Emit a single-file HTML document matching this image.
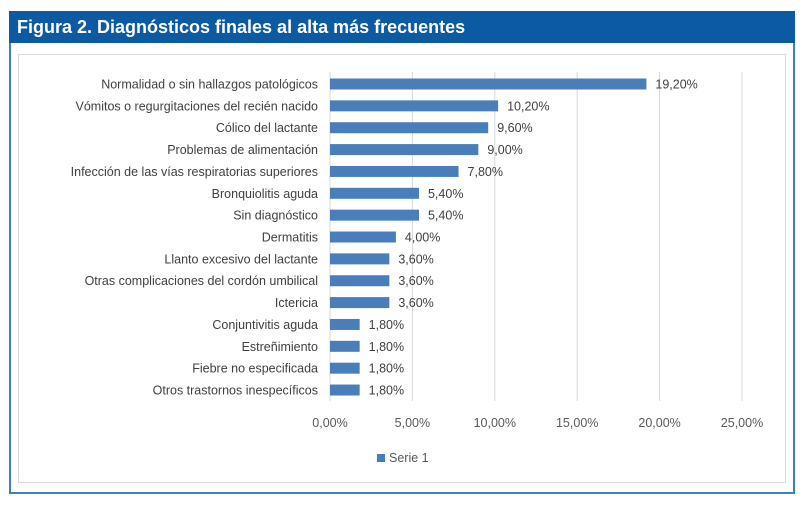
<!DOCTYPE html>
<html><head><meta charset="utf-8"><style>
body{margin:0;background:#fff;width:803px;height:505px;overflow:hidden;font-family:"Liberation Sans",sans-serif}
#frame{position:absolute;left:9px;top:11px;width:782px;height:481px;border:2px solid #3f7fbf;border-top:none;box-sizing:content-box}
#hdr{position:absolute;left:9px;top:11px;width:786px;height:32px;background:#0b5aa2;color:#fff;font-weight:bold;font-size:18px;line-height:32px;padding-left:8px;box-sizing:border-box}
#inner{position:absolute;left:18px;top:54px;width:768px;height:429px;border:1px solid #d9d9d9;box-sizing:border-box}
</style></head><body>
<div id="frame"></div>
<div id="hdr">Figura 2. Diagnósticos finales al alta más frecuentes</div>
<div id="inner"></div>
<svg id="chart" width="803" height="505" style="position:absolute;left:0;top:0"></svg>
<script>
const categories=["Normalidad o sin hallazgos patológicos","Vómitos o regurgitaciones del recién nacido","Cólico del lactante","Problemas de alimentación","Infección de las vías respiratorias superiores","Bronquiolitis aguda","Sin diagnóstico","Dermatitis","Llanto excesivo del lactante","Otras complicaciones del cordón umbilical","Ictericia","Conjuntivitis aguda","Estreñimiento","Fiebre no especificada","Otros trastornos inespecíficos"];
const values=[19.2,10.2,9.6,9.0,7.8,5.4,5.4,4.0,3.6,3.6,3.6,1.8,1.8,1.8,1.8];
const ticks=[0,5,10,15,20,25];
const svg=document.getElementById('chart');const NS='http://www.w3.org/2000/svg';
const x=v=>330+v*16.48;const y=i=>84+i*21.86;
const fmt=v=>v.toFixed(2).replace('.',',')+'%';
function mk(t,a,txt){const e=document.createElementNS(NS,t);for(const k in a)e.setAttribute(k,a[k]);if(txt!==undefined)e.textContent=txt;svg.appendChild(e);return e;}
ticks.forEach(t=>{
const g=mk('line',{x1:x(t),x2:x(t),y1:72,y2:401,stroke:'#d9d9d9','stroke-width':1});


const l=mk('text',{x:x(t),y:427,'text-anchor':'middle','font-size':12.5,fill:'#595959'},fmt(t));


});
categories.forEach((c,i)=>{
const b=mk('rect',{x:x(0),y:y(i)-5.5,width:x(values[i])-x(0),height:11,fill:'#4a7ebb'});


const cl=mk('text',{x:318,y:y(i)+4.5,'text-anchor':'end','font-size':12.5,fill:'#404040'},c);


const vl=mk('text',{x:x(values[i])+9,y:y(i)+4.5,'font-size':12.5,fill:'#404040'},fmt(values[i]));


});
const lg=mk('rect',{x:377,y:454,width:8,height:8,fill:'#4a7ebb'});


const lt=mk('text',{x:389,y:462,'font-size':12.5,fill:'#595959'},'Serie 1');


</script>
</body></html>
